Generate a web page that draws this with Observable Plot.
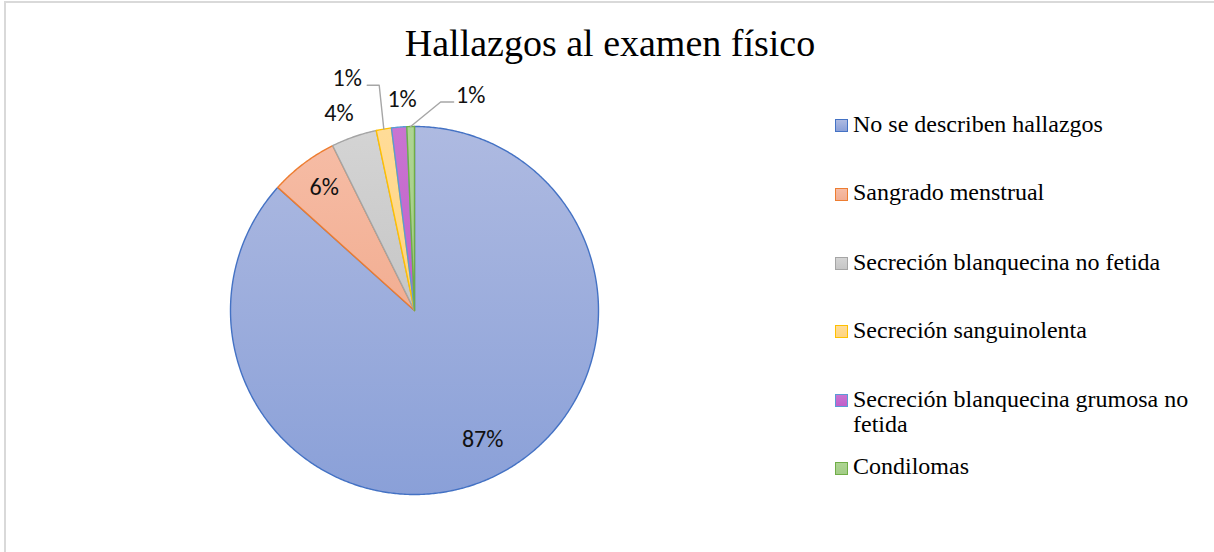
<!DOCTYPE html>
<html>
<head>
<meta charset="utf-8">
<script src="https://cdn.jsdelivr.net/npm/d3@7"></script>
<script src="https://cdn.jsdelivr.net/npm/@observablehq/plot@0.6"></script>
<style>
  body { margin: 0; background: #fff; }
  #wrap { position: relative; width: 1214px; height: 552px; overflow: hidden; background: #fff; }
  #chart { position: absolute; left: 0; top: 0; }
  #frame { position: absolute; left: 4px; top: 1px; width: 1400px; height: 800px;
           border-left: 2px solid #d9d9d9; border-top: 2px solid #d9d9d9; pointer-events: none; }
  #title { position: absolute; left: 3px; width: 1214px; top: 24px; text-align: center;
           font-family: "Liberation Serif", "Times New Roman", serif; font-size: 38px; line-height: 38px; color: #000; }
  .lg-row { position: absolute; left: 835px; }
  .lg-mark { position: absolute; left: 0; top: 7.5px; width: 11px; height: 11px; border: 1.5px solid; }
  .lg-text { position: absolute; left: 18px; top: 0; width: 350px; font-family: "Liberation Serif", "Times New Roman", serif;
             font-size: 24px; line-height: 25px; color: #000; white-space: normal; }
</style>
</head>
<body>
<div id="wrap">
  <div id="chart"></div>
  <div id="frame"></div>
  <div id="title">Hallazgos al examen físico</div>
  <div id="legend"></div>
</div>
<script>
// ---- data ----
const chartTitle = "Hallazgos al examen físico";
const categories = [
  "No se describen hallazgos",
  "Sangrado menstrual",
  "Secreción blanquecina no fetida",
  "Secreción sanguinolenta",
  "Secreción blanquecina grumosa no fetida",
  "Condilomas"
];
const counts = [130, 9, 6, 2, 2, 1];

// ---- styles ----
const fillTop    = ["#AEBAE1", "#F6BCA5", "#D4D4D4", "#FFDC98", "#C974D1", "#AED593"];
const fillBottom = ["#8AA0D8", "#F2AE92", "#C6C6C6", "#FFD47F", "#C060CA", "#A2CC86"];
const strokes    = ["#4472C4", "#ED7D31", "#A5A5A5", "#FFC000", "#5B9BD5", "#70AD47"];

// ---- layout ----
const CX = 414, CY = 310, R = 184;
// label placement: inside labels at radius r (fraction), outside labels offset in px from slice edge
const labelLayout = [
  {r: 0.79, dx: 9, dy: -4},
  {r: 0.83, dx: 2, dy: -2},
  {r: 1, dx: -15, dy: -23},
  {r: 1, dx: -36.6, dy: -50.3, leader: 1},
  {r: 1, dx: 3, dy: -28.3},
  {r: 1, dx: 60, dy: -31, leader: -1}
];

const total = d3.sum(counts);
let acc = 0;
const slices = categories.map((c, i) => {
  const a0 = acc / total * 2 * Math.PI;
  acc += counts[i];
  const a1 = acc / total * 2 * Math.PI;
  return {c, i, a0, a1, mid: (a0 + a1) / 2, pct: Math.round(counts[i] / total * 100)};
});

const piePts = [];
for (const s of slices) {
  piePts.push({c: s.c, i: s.i, x: 0, y: 0});
  const n = Math.max(2, Math.ceil((s.a1 - s.a0) / (Math.PI / 360)));
  for (let k = 0; k <= n; k++) {
    const a = s.a0 + (s.a1 - s.a0) * k / n;
    piePts.push({c: s.c, i: s.i, x: Math.sin(a), y: Math.cos(a)});
  }
}

const labels = slices.map(s => {
  const L = labelLayout[s.i];
  const ax = Math.sin(s.mid) * L.r, ay = Math.cos(s.mid) * L.r;
  return {i: s.i, text: s.pct + "%", ax, ay, x: ax + L.dx / R, y: ay - L.dy / R, leader: L.leader};
});

const leaderPts = [];
for (const l of labels) {
  if (!l.leader) continue;
  const sd = l.leader;
  const off = 6.5;
  leaderPts.push({i: l.i, x: l.x + (sd > 0 ? 20 : -17) / R, y: l.y - off / R});
  leaderPts.push({i: l.i, x: l.x + (sd > 0 ? 32 : -30) / R, y: l.y - off / R});
  leaderPts.push({i: l.i, x: l.ax, y: l.ay});
}

const svg = Plot.plot({
  width: 1214,
  height: 552,
  margin: 0,
  x: {domain: [-1, 1], range: [CX - R, CX + R], axis: null},
  y: {domain: [-1, 1], range: [CY + R, CY - R], axis: null},
  color: {type: "identity"},
  marks: [
    Plot.line(piePts, {
      x: "x", y: "y", z: "c",
      fill: d => `url(#sliceGrad${d.i})`,
      stroke: d => strokes[d.i],
      strokeWidth: 1.4,
      strokeLinejoin: "round",
      curve: "linear-closed"
    }),
    Plot.line(leaderPts, {x: "x", y: "y", z: "i", stroke: "#A6A6A6", strokeWidth: 1.4}),
    Plot.text(labels, {
      x: "x", y: "y", text: "text",
      fontSize: 24, fontFamily: "Carlito, Lato, 'Open Sans', sans-serif", fill: "#111"
    })
  ]
});

const defs = d3.select(svg).insert("defs", ":first-child");
slices.forEach(s => {
  const g = defs.append("linearGradient").attr("id", `sliceGrad${s.i}`)
    .attr("x1", 0).attr("y1", 0).attr("x2", 0).attr("y2", 1);
  g.append("stop").attr("offset", "0%").attr("stop-color", fillTop[s.i]);
  g.append("stop").attr("offset", "100%").attr("stop-color", fillBottom[s.i]);
});

document.getElementById("chart").appendChild(svg);
document.getElementById("title").textContent = chartTitle;

// legend
const legendTops = [111.5, 180, 249.5, 317.5, 386.5, 454];
const legend = document.getElementById("legend");
categories.forEach((c, i) => {
  const row = document.createElement("div");
  row.className = "lg-row";
  row.style.top = legendTops[i] + "px";
  const m = document.createElement("span");
  m.className = "lg-mark";
  m.style.background = `linear-gradient(${fillTop[i]}, ${fillBottom[i]})`;
  m.style.borderColor = strokes[i];
  const t = document.createElement("span");
  t.className = "lg-text";
  t.textContent = c;
  row.appendChild(m);
  row.appendChild(t);
  legend.appendChild(row);
});
</script>
</body>
</html>
